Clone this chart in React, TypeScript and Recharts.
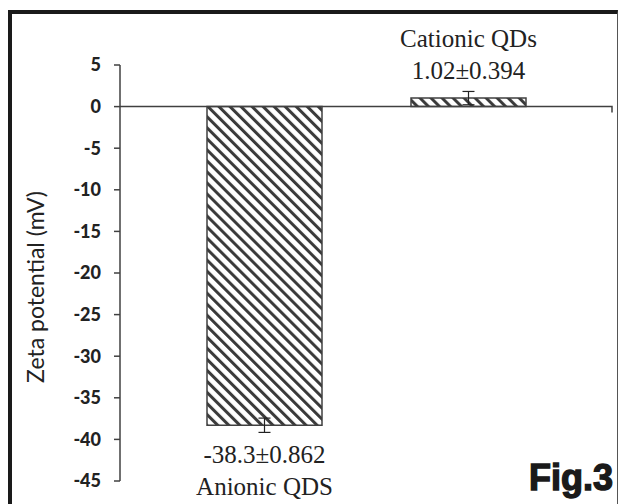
import { BarChart, Bar, XAxis, YAxis, ErrorBar, LabelList, ReferenceLine } from 'recharts'

const categories = ['Anionic QDS', 'Cationic QDs']
const zeta = [-38.3, 1.02]
const errors = [0.86, 0.8]
const valueLabels = ['-38.3±0.862', '1.02±0.394']
const yTicks = [5, 0, -5, -10, -15, -20, -25, -30, -35, -40, -45]

const data = categories.map((name, i) => ({
  name,
  zeta: zeta[i],
  err: errors[i],
  label: valueLabels[i],
}))

const serif = '"Liberation Serif", "Times New Roman", serif'

const BarText = (props: any) => {
  const { x, y, width, height, index } = props
  const cx = x + width / 2
  const top = Math.min(y, y + height)
  const bottom = Math.max(y, y + height)
  const d = data[index]
  if (d.zeta < 0) {
    return (
      <g fontFamily={serif} fontSize={25} fill="#222" textAnchor="middle">
        <text x={cx} y={bottom + 38}>{d.label}</text>
        <text x={cx} y={bottom + 70}>{d.name}</text>
      </g>
    )
  }
  return (
    <g fontFamily={serif} fontSize={25} fill="#222" textAnchor="middle">
      <text x={cx} y={top - 51}>{d.name}</text>
      <text x={cx} y={top - 19}>{d.label}</text>
    </g>
  )
}

export default function App() {
  return (
    <div style={{ position: 'absolute', left: 0, top: 0, width: 620, height: 504, background: '#fff', overflow: 'hidden' }}>
      <div
        style={{
          position: 'absolute',
          left: 8,
          top: 10,
          width: 605,
          height: 520,
          borderLeft: '4px solid #1a1a1a',
          borderTop: '4px solid #1a1a1a',
          borderRight: '1px solid #555',
        }}
      />
      <div style={{ position: 'absolute', left: 0, top: 0 }}>
        <BarChart width={620} height={504} data={data} margin={{ top: 65, right: 8, bottom: 23, left: 60 }}>
          <defs>
            <pattern id="hatch" patternUnits="userSpaceOnUse" width="7.8" height="7.8" patternTransform="rotate(-45)">
              <rect x="0" y="0" width="7.8" height="7.8" fill="#fff" />
              <rect x="0" y="0" width="3" height="7.8" fill="#3a3a3a" />
            </pattern>
          </defs>
          <XAxis dataKey="name" hide padding={{ left: 42, right: 42 }} />
          <YAxis
            domain={[-45, 5]}
            ticks={yTicks}
            interval={0}
            width={60}
            tickSize={6}
            tickMargin={13}
            axisLine={{ stroke: '#404040', strokeWidth: 1.5 }}
            tickLine={{ stroke: '#404040', strokeWidth: 1.5 }}
            tick={{ fontFamily: 'Lato, sans-serif', fontWeight: 900, fontSize: 18, fill: '#222' }}
            label={{
              content: () => (
                <text
                  x={35}
                  y={287}
                  transform="rotate(-90, 35, 287)"
                  textAnchor="middle"
                  dominantBaseline="central"
                  fontFamily="Lato, sans-serif"
                  fontSize={23}
                  fill="#222"
                >
                  Zeta potential (mV)
                </text>
              ),
            }}
          />
          <Bar dataKey="zeta" barSize={115} fill="url(#hatch)" stroke="#404040" strokeWidth={1.5} isAnimationActive={false}>
            <ErrorBar dataKey="err" direction="y" width={6} stroke="#222" strokeWidth={1.2} />
            <LabelList dataKey="zeta" content={BarText} />
          </Bar>
          <ReferenceLine
            y={0}
            shape={(p: any) => (
              <path d={`M${p.x1},${p.y1}H${p.x2}V${p.y1 + 6}`} fill="none" stroke="#404040" strokeWidth={1.5} />
            )}
          />
        </BarChart>
      </div>
      <div
        style={{
          position: 'absolute',
          right: 7,
          top: 458,
          fontFamily: '"Liberation Sans", Arial, sans-serif',
          fontWeight: 900,
          fontSize: 36,
          lineHeight: '40px',
          color: '#1a1a1a',
          WebkitTextStroke: '1.4px #1a1a1a',
        }}
      >
        Fig.3
      </div>
    </div>
  )
}
